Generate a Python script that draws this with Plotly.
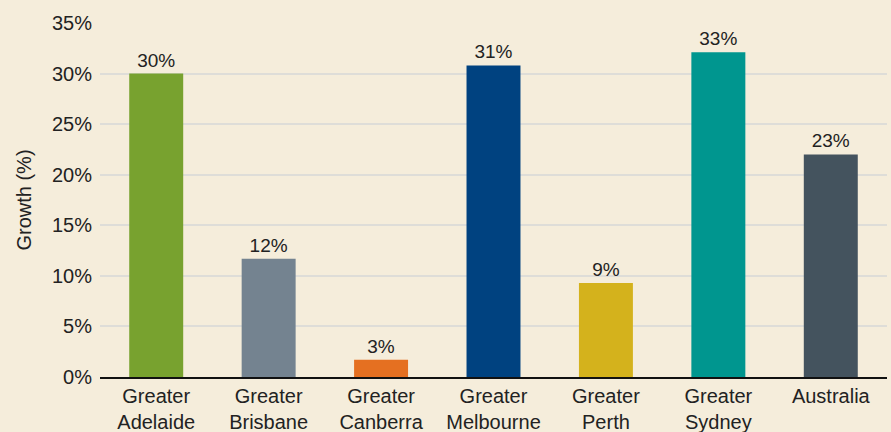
import plotly.graph_objects as go

categories = ["Greater<br>Adelaide", "Greater<br>Brisbane", "Greater<br>Canberra",
              "Greater<br>Melbourne", "Greater<br>Perth", "Greater<br>Sydney", "Australia"]
values = [30.0, 11.7, 1.7, 30.8, 9.3, 32.1, 22.0]
labels = ["30%", "12%", "3%", "31%", "9%", "33%", "23%"]
colors = ["#78A22F", "#748390", "#E57021", "#004280", "#D4B21C", "#00968F", "#44535E"]
y_ticks = [0, 5, 10, 15, 20, 25, 30, 35]
y_tick_text = ["0%", "5%", "10%", "15%", "20%", "25%", "30%", "35%"]

FONT = "Liberation Sans, Arial, sans-serif"
TXT = "#222222"

fig = go.Figure(go.Bar(
    x=categories, y=values, text=labels, textposition="outside",
    marker=dict(color=colors, line=dict(width=0)),
    textfont=dict(family=FONT, size=19, color=TXT),
    cliponaxis=False,
))

fig.update_layout(
    width=891, height=432,
    margin=dict(l=100, r=4, t=23, b=55),
    paper_bgcolor="#F5EDDB", plot_bgcolor="#F5EDDB",
    bargap=0.52,
    showlegend=False,
    font=dict(family=FONT, size=20, color=TXT),
)
fig.update_yaxes(
    range=[0, 35], tickmode="array", tickvals=y_ticks, ticktext=y_tick_text,
    showgrid=True, gridcolor="#DEDDD8", gridwidth=1.5,
    zeroline=False, showline=False, automargin=False,
    tickfont=dict(size=20, color=TXT), ticks="", ticklen=0,
    ticklabelstandoff=7,
    title=dict(text="Growth (%)", font=dict(size=20, color=TXT), standoff=14),
)
fig.update_xaxes(
    showline=True, linecolor="#111111", linewidth=2, automargin=False,
    tickfont=dict(size=20, color=TXT), ticks="",
)

fig.write_html("out.html", config={"displayModeBar": False},
               post_script="document.body.style.margin='0';document.body.style.padding='0';document.body.style.overflow='hidden';")
